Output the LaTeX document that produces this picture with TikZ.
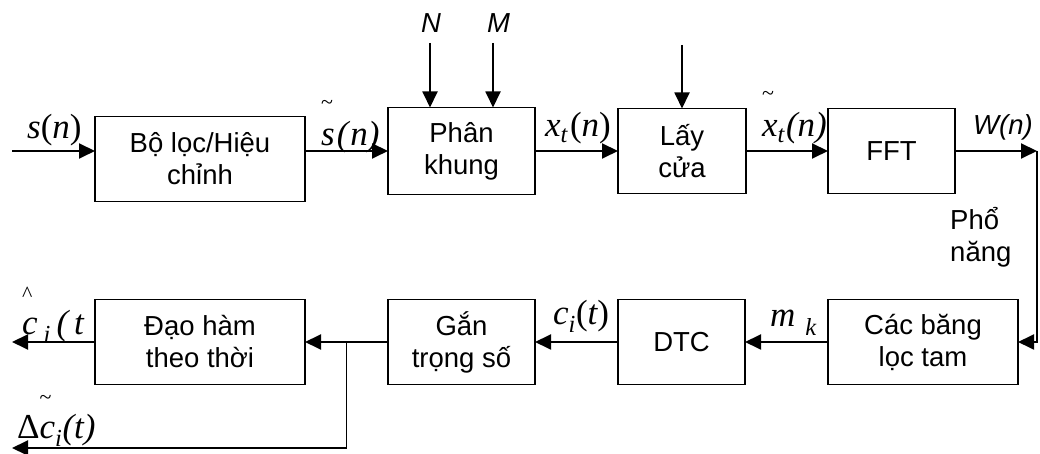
\documentclass[tikz,border=0pt]{standalone}
\usepackage{fontspec}
\setmainfont{Liberation Sans}
\newfontfamily\tms{Liberation Serif}
\usetikzlibrary{arrows.meta, positioning}

% mark (tilde, hat) set above a letter
\newcommand{\overmark}[3]{\makebox[0pt][l]{\raisebox{#1}{\fontsize{22}{22}\selectfont #2}}#3}

\begin{document}
\begin{tikzpicture}[
    x=1pt, y=1pt,
    node distance=83pt,
    blk/.style={rectangle, draw, line width=1.9pt, outer sep=0pt, minimum height=85pt, align=center, font=\fontsize{27.5}{32}\selectfont},
    arr/.style={-{Triangle[length=16pt,width=15pt]}, line width=1.9pt},
    sig/.style={inner sep=0pt, anchor=base west, font=\tms\fontsize{35}{40}\selectfont},
    txt/.style={inner sep=0pt, font=\fontsize{27.5}{32}\selectfont},
]
\useasboundingbox (0,0) rectangle (1040,454);

% Top row
\node[blk, minimum width=147pt, minimum height=87pt] (frame) at (461.5,303) {Phân\\khung};
\node[blk, minimum width=210pt, left=of frame, yshift=-8pt] (filt) {Bộ lọc/Hiệu\\chỉnh};
\node[blk, minimum width=128pt, right=of frame] (win) {Lấy\\cửa};
\node[blk, minimum width=127pt, right=82pt of win] (fft) {FFT};

% Bottom row
\node[blk, minimum width=147pt, below=105pt of frame] (weight) {Gắn\\trọng số};
\node[blk, minimum width=210pt, left=of weight] (deriv) {Đạo hàm\\theo thời};
\node[blk, minimum width=127pt, right=of weight] (dct) {DTC};
\node[blk, minimum width=190pt, right=of dct] (mel) {Các băng\\lọc tam};

% Free ends
\coordinate (src) at (12,303);
\coordinate[right=82pt of fft.east] (bend);
\coordinate[left=41.5pt of weight.west] (tap);
\coordinate (out1) at (src |- deriv.west);
\coordinate (out2) at (12,6);
\coordinate (Ntop) at (430,411);
\coordinate (Mtop) at (493,411);
\coordinate (Wtop) at (682,409);

% Signal path
\draw[arr] (src) -- (src -| filt.west);
\draw[arr] (filt.east |- frame.west) -- (frame.west);
\draw[arr] (frame.east) -- (win.west);
\draw[arr] (win.east) -- (fft.west);
\draw[arr] (fft.east) -- (bend);
\draw[arr] (bend) |- (mel.east);
\draw[arr] (mel.west) -- (dct.east);
\draw[arr] (dct.west) -- (weight.east);
\draw[arr] (weight.west) -- (deriv.east);
\draw[arr] (deriv.west) -- (out1);
\draw[arr] (tap) |- (out2);

% Parameters from above
\draw[arr] (Ntop) -- (Ntop |- frame.north);
\draw[arr] (Mtop) -- (Mtop |- frame.north);
\draw[arr] (Wtop) -- (win.north);
\node[txt, anchor=base west, font=\fontsize{27.5}{32}\selectfont\itshape] (N) at (421,421) {N};
\node[txt, anchor=base west, font=\fontsize{27.5}{32}\selectfont\itshape] (M) at (487,421) {M};

% Signal labels
\node[sig] (sn) at (27,315) {{\itshape s}({\itshape n})};
\node[sig] (sfn) at (321,308) {\overmark{36pt}{\textasciitilde}{\itshape s}\hspace{2pt}(\hspace{2pt}{\itshape n})};
\node[sig] (xn) at (545,317) {{\itshape x}\textsubscript{\itshape t}\hspace{2pt}({\itshape n})};
\node[sig] (xwn) at (762,317) {\overmark{36pt}{\textasciitilde}{\itshape x}\textsubscript{\itshape t}\hspace{1pt}({\itshape n})};
\node[txt, anchor=base west, font=\fontsize{27.5}{32}\selectfont\itshape] (wn) at (973,319) {W(n)};
\node[txt, anchor=north west, align=left] (pow) at (950,247) {Phổ\\năng};
\node[sig] (mk) at (770,127) {{\itshape m}\hspace{10pt}\textsubscript{\itshape k}};
\node[sig] (ct) at (553,129) {{\itshape c}\textsubscript{\itshape i}({\itshape t})};
\node[sig] (chat) at (22,119) {\overmark{33pt}{\textasciicircum}{\itshape c}\,\textsubscript{\itshape i}\,(\,{\itshape t}};
\node[sig] (dc) at (17,15) {Δ\overmark{34pt}{\textasciitilde}{\itshape c}\textsubscript{\itshape i}({\itshape t})};

\end{tikzpicture}
\end{document}
